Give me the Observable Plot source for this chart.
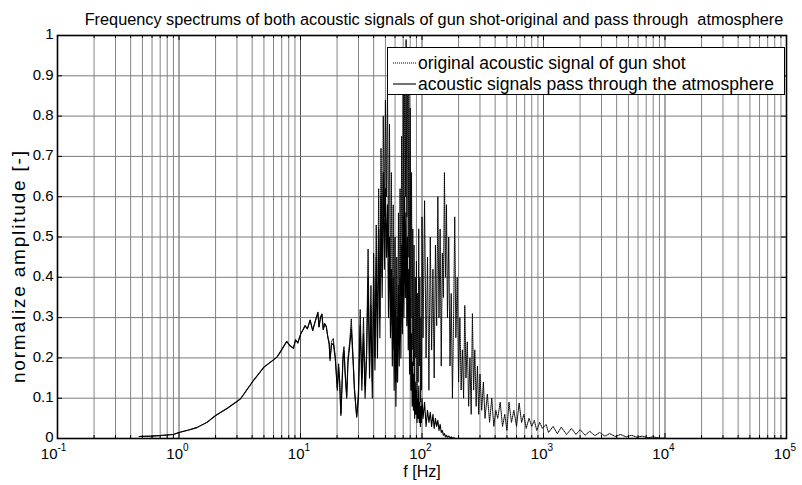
<!DOCTYPE html>
<html><head><meta charset="utf-8">
<script src="https://cdn.jsdelivr.net/npm/d3@7"></script>
<script src="https://cdn.jsdelivr.net/npm/@observablehq/plot@0.6"></script>
<style>
body{margin:0;background:#fff}
#wrap{position:relative;width:802px;height:485px;font-family:"Liberation Sans",Arial,sans-serif}
#legend{position:absolute;left:387px;top:47px;width:396px;height:46px;border:1px solid #000;background:#fff}
.row{position:absolute;left:0;height:20px;display:flex;align-items:center;font-size:17.5px;white-space:nowrap;color:#000}
.row svg{margin-left:5px;margin-right:2px}
</style>
</head><body>
<div id="wrap"></div>
<script>
// ---------- data ----------
const lowFreq = [0.47,0.6,0.75,0.9,1.0,1.2,1.4,1.7,2.0,2.5,3.2,4.1,5.0,5.7,6.4,7.0,7.7,8.2,8.75,9.1,9.5,10.05,10.5,10.9,11.4,12.0,12.6,13.2,13.9,14.2,14.6,15.0,15.4,15.8,16.3,16.8,17.2,17.5,18.0,18.6,19.3,20.1,20.6,21.0,21.5,21.9,22.4,22.8,23.3,24.0,24.6,25.4,26.2,27.0,27.8,29.0];
const lowAtm = [0.005,0.006,0.008,0.010,0.015,0.021,0.027,0.040,0.057,0.075,0.098,0.144,0.177,0.190,0.202,0.220,0.241,0.230,0.224,0.245,0.237,0.260,0.270,0.280,0.272,0.294,0.268,0.290,0.313,0.277,0.300,0.309,0.270,0.285,0.278,0.250,0.235,0.193,0.232,0.236,0.200,0.120,0.177,0.140,0.057,0.120,0.200,0.218,0.160,0.100,0.190,0.230,0.272,0.200,0.120,0.053];
const lowOrig = [0.005,0.006,0.008,0.010,0.015,0.021,0.027,0.040,0.057,0.075,0.098,0.144,0.177,0.190,0.202,0.220,0.241,0.230,0.224,0.245,0.237,0.260,0.270,0.280,0.272,0.294,0.268,0.290,0.313,0.277,0.300,0.309,0.270,0.285,0.278,0.252,0.240,0.198,0.240,0.248,0.205,0.125,0.185,0.145,0.060,0.125,0.210,0.228,0.165,0.105,0.200,0.240,0.297,0.210,0.125,0.055];

const midFreq = [30,31,32,33,34,35,36,37,38,39,40,41,42,43,44,45,46,47,48,49,50,51,52,53,54,55,56,57,58,59,60,61,62,63,64,65,66,67,68,69,70,71,72,73,74,75,76,77,78,79,80,81,82,83,84,85,86,87,88,89,90,91,92,93,94,95,96,97,98,99,100];
const midOrig = [0.12,0.32,0.15,0.30,0.13,0.22,0.47,0.18,0.38,0.14,0.46,0.20,0.53,0.25,0.62,0.30,0.72,0.40,0.80,0.55,0.84,0.60,0.87,0.45,0.78,0.35,0.66,0.28,0.58,0.22,0.50,0.14,0.45,0.20,0.56,0.26,0.62,0.30,0.75,0.40,0.88,0.50,0.97,0.60,0.99,0.55,0.96,0.45,0.90,0.35,0.82,0.30,0.66,0.22,0.52,0.18,0.48,0.12,0.40,0.20,0.44,0.10,0.36,0.14,0.52,0.18,0.40,0.09,0.30,0.12,0.55];
const midAtm = [0.10,0.28,0.12,0.26,0.10,0.20,0.40,0.15,0.33,0.10,0.40,0.17,0.45,0.20,0.52,0.25,0.60,0.35,0.66,0.42,0.62,0.45,0.58,0.30,0.50,0.25,0.42,0.18,0.40,0.12,0.33,0.08,0.30,0.14,0.38,0.18,0.40,0.20,0.48,0.26,0.55,0.30,0.60,0.35,0.56,0.28,0.50,0.22,0.42,0.16,0.35,0.12,0.26,0.08,0.19,0.07,0.16,0.05,0.14,0.06,0.12,0.04,0.10,0.05,0.13,0.04,0.09,0.03,0.08,0.04,0.10];

const upFreq = [102,105,108,111,114,117,120,123,126,129,132,135,138,141,144,147,150,153,156,159,162,166,170,174,178,182,186,190,195,200,205,210,215,220,225,230,236,242,248,254,260,266,272,279,286,293,300];
const upOrig = [0.25,0.59,0.20,0.45,0.12,0.50,0.22,0.42,0.15,0.48,0.28,0.60,0.30,0.52,0.18,0.46,0.35,0.66,0.40,0.58,0.30,0.50,0.18,0.36,0.10,0.30,0.55,0.25,0.40,0.14,0.30,0.12,0.22,0.10,0.33,0.15,0.24,0.08,0.20,0.06,0.31,0.12,0.22,0.08,0.18,0.06,0.16];
const upAtm = [0.05,0.09,0.03,0.07,0.04,0.065,0.03,0.06,0.025,0.05,0.03,0.045,0.02,0.035,0.015,0.02,0.008,0.012,0.004,0.008,0.003,0.006,0.002,0.004,0.001,0.002,0.0];

const tailFreq = [310,320,330,345,360,375,390,405,420,440,460,480,500,520,545,570,600,630,660,690,720,760,800,840,880,930,980,1050,1100,1200,1300,1400,1550,1700,1850,2000,2200,2400,2650,2900,3200,3500,3900,4300,4800,5300,5900,6500,7200,8000,9000,10000];
const tailOrig = [0.07,0.14,0.05,0.11,0.04,0.10,0.03,0.07,0.05,0.09,0.03,0.06,0.02,0.09,0.04,0.07,0.03,0.088,0.04,0.06,0.025,0.05,0.03,0.045,0.02,0.04,0.025,0.035,0.015,0.03,0.012,0.028,0.01,0.025,0.01,0.022,0.008,0.018,0.007,0.015,0.006,0.012,0.005,0.01,0.004,0.008,0.003,0.006,0.002,0.004,0.001,0.001];

// ticks / labels
const xDecades = [0.1,1,10,100,1000,10000,100000];
const xExponents = ["-1","0","1","2","3","4","5"];
const minorMult = [2,3,4,5,6,7,8,9];
const yTicks = [0,0.1,0.2,0.3,0.4,0.5,0.6,0.7,0.8,0.9,1];
const yTickLabels = ["0","0.1","0.2","0.3","0.4","0.5","0.6","0.7","0.8","0.9","1"];

const titleText = "Frequency spectrums of both acoustic signals of gun shot-original and pass through  atmosphere";
const xLabel = "f [Hz]";
const yLabel = "normalize amplitude [-]";
const seriesNames = ["original acoustic signal of gun shot","acoustic signals pass through the atmosphere"];

// ---------- build tables ----------
function zip(fs, as) { return as.map((a, i) => ({f: fs[i], a})); }
const origData = [...zip(lowFreq, lowOrig), ...zip(midFreq, midOrig), ...zip(upFreq, upOrig), ...zip(tailFreq, tailOrig)];
const atmData = [...zip(lowFreq, lowAtm), ...zip(midFreq, midAtm), ...zip(upFreq, upAtm)];

const minorX = [];
for (const d of xDecades.slice(0, -1)) for (const m of minorMult) minorX.push(d * m);

const marginLeft = 57, marginRight = 16, marginTop = 35, marginBottom = 47;
const plotH = 485 - marginTop - marginBottom;
const plotW = 802 - marginLeft - marginRight;
const decadePx = plotW / 6;
const tickMajorY = 5 / plotH, tickMinorY = 3 / plotH;
const tickXfac = Math.pow(10, 5 / decadePx);

const chart = Plot.plot({
  width: 802, height: 485,
  marginLeft, marginRight, marginTop, marginBottom,
  x: {type: "log", domain: [0.1, 1e5], axis: null},
  y: {domain: [0, 1], axis: null},
  style: {fontFamily: "'Liberation Sans', Arial, sans-serif", background: "white", color: "black", overflow: "visible"},
  marks: [
    Plot.ruleX(minorX, {x: d => d, stroke: "#858585", strokeWidth: 1}),
    Plot.ruleX(xDecades, {x: d => d, stroke: "#505050", strokeWidth: 1}),
    Plot.ruleY(yTicks, {y: d => d, stroke: "#7a7a7a", strokeWidth: 1}),
    Plot.line(origData, {x: "f", y: "a", stroke: "black", strokeWidth: 1, strokeDasharray: "1,1"}),
    Plot.line(atmData, {x: "f", y: "a", stroke: "black", strokeWidth: 1.1}),
    // inward ticks
    Plot.ruleX(xDecades, {x: d => d, y1: 0, y2: tickMajorY, stroke: "black"}),
    Plot.ruleX(minorX, {x: d => d, y1: 0, y2: tickMinorY, stroke: "black"}),
    Plot.ruleX(xDecades, {x: d => d, y1: 1, y2: 1 - tickMajorY, stroke: "black"}),
    Plot.ruleX(minorX, {x: d => d, y1: 1, y2: 1 - tickMinorY, stroke: "black"}),
    Plot.ruleY(yTicks, {y: d => d, x1: 0.1, x2: 0.1 * tickXfac, stroke: "black"}),
    Plot.ruleY(yTicks, {y: d => d, x1: 1e5 / tickXfac, x2: 1e5, stroke: "black"}),
    Plot.frame({stroke: "black", strokeWidth: 1.6}),
    // y tick labels
    Plot.text(yTicks, {y: d => d, text: (d, i) => yTickLabels[i], frameAnchor: "left", textAnchor: "end", dx: -4, dy: -1, fontSize: 15}),
    // x tick labels: base "10" + superscript exponent
    Plot.text(xDecades, {filter: d => d >= 1, x: d => d, text: () => "10", frameAnchor: "bottom", textAnchor: "end", dx: 4, dy: 20, fontSize: 15}),
    Plot.text(xDecades, {filter: d => d < 1, x: d => d, text: () => "10", frameAnchor: "bottom", textAnchor: "end", dx: 0, dy: 20, fontSize: 15}),
    Plot.text(xDecades, {filter: d => d >= 1, x: d => d, text: (d) => xExponents[xDecades.indexOf(d)], frameAnchor: "bottom", textAnchor: "start", dx: 4, dy: 12, fontSize: 10}),
    Plot.text(xDecades, {filter: d => d < 1, x: d => d, text: (d) => xExponents[xDecades.indexOf(d)], frameAnchor: "bottom", textAnchor: "start", dx: 0, dy: 12, fontSize: 10}),
    // axis labels & title
    Plot.text([xLabel], {text: d => d, frameAnchor: "bottom", dy: 38, fontSize: 16}),
    Plot.text([yLabel], {text: d => d, frameAnchor: "left", rotate: -90, textAnchor: "start", dx: -39, dy: 146, fontSize: 19, className: "ylab"}),
    Plot.text([titleText], {text: d => d, frameAnchor: "top", dx: 12, dy: -22, fontSize: 16.3})
  ]
});

// stretch the rotated y label to the length it has in the reference
const ylabText = chart.querySelector("g.ylab text");
if (ylabText) { ylabText.setAttribute("textLength", "232"); ylabText.setAttribute("lengthAdjust", "spacing"); }

const wrap = document.getElementById("wrap");
wrap.appendChild(chart);

// legend (MATLAB-style boxed legend inside axes)
const legend = document.createElement("div");
legend.id = "legend";
const styles = [{dash: "1,1", w: 1}, {dash: null, w: 1.1}];
seriesNames.forEach((name, i) => {
  const row = document.createElement("div");
  row.className = "row";
  row.style.top = (5 + i * 21) + "px";
  row.innerHTML = `<svg width="23" height="10"><line x1="0" y1="5" x2="23" y2="5" stroke="black" stroke-width="${styles[i].w}" ${styles[i].dash ? `stroke-dasharray="${styles[i].dash}"` : ""}/></svg><span>${name}</span>`;
  legend.appendChild(row);
});
wrap.appendChild(legend);
</script>
</body></html>
